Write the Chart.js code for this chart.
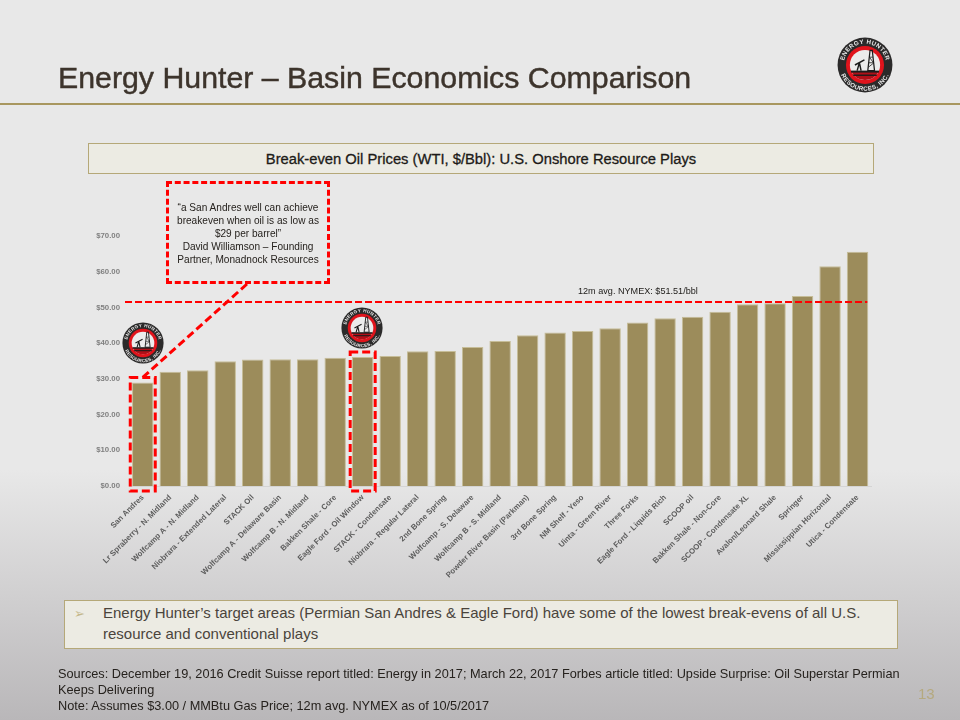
<!DOCTYPE html>
<html>
<head>
<meta charset="utf-8">
<title>Energy Hunter - Basin Economics Comparison</title>
<script src="https://cdn.jsdelivr.net/npm/chart.js@4/dist/chart.umd.min.js"></script>
<style>
  html, body { margin: 0; padding: 0; }
  body {
    width: 960px; height: 720px; position: relative; overflow: hidden;
    font-family: "Liberation Sans", Arial, sans-serif;
    background: linear-gradient(#e8e8e8 0, #e8e8e8 470px, #b9b7b9 720px);
  }
  #chart { position: absolute; left: 0; top: 0; }
  .abs { position: absolute; }
  #title { left: 58px; top: 61px; font-size: 30.3px; color: #3d342c; white-space: nowrap; -webkit-text-stroke: 0.45px #3d342c; }
  #rule { left: 0; top: 103px; width: 960px; height: 2px; background: #a8975f; }
  #header {
    left: 88px; top: 143px; width: 784px; height: 29px; line-height: 30px; text-align: center;
    background: #ecebe3; border: 1px solid #b5a878; font-size: 14.75px; color: #1d1b18;
    -webkit-text-stroke: 0.3px #1d1b18;
  }
  #callout {
    left: 166px; top: 181px; width: 158px; height: 97px; border: 3px dashed #ff0000;
    font-size: 10.1px; line-height: 13px; color: #26221e; text-align: center;
    display: flex; align-items: center;
  }
  #callout div { width: 100%; padding-top: 2px; }
  #nymex { left: 578px; top: 286px; font-size: 9.1px; color: #1d1b18; white-space: nowrap; }
  #takeaway {
    left: 64px; top: 600px; width: 832px; height: 47px;
    background: #ecebe3; border: 1px solid #b5a878;
    font-size: 15px; line-height: 21px; color: #4a443c;
  }
  #takeaway .arrow { position: absolute; left: 9px; top: 2px; color: #c4b78a; font-size: 13px; font-family: "DejaVu Sans"; }
  #takeaway .text { position: absolute; left: 38px; top: 1px; width: 790px; }
  #sources { left: 58px; top: 666px; width: 860px; font-size: 12.74px; line-height: 16px; color: #26221e; }
  #page { left: 918px; top: 685px; font-size: 15px; color: #b5a97f; }
  .logo { position: absolute; overflow: visible; }
  #ehLogo text { font-family: "Liberation Sans"; font-weight: bold; fill: #e8e8e8; font-size: 11px; letter-spacing: 0.7px; }
</style>
</head>
<body>
<canvas id="chart" width="960" height="720"></canvas>

<div id="title" class="abs">Energy Hunter – Basin Economics Comparison</div>
<div id="rule" class="abs"></div>
<div id="header" class="abs">Break-even Oil Prices (WTI, $/Bbl): U.S. Onshore Resource Plays</div>
<div id="callout" class="abs"><div>“a San Andres well can achieve breakeven when oil is as low as $29 per barrel”<br>David Williamson – Founding Partner, Monadnock Resources</div></div>
<div id="nymex" class="abs">12m avg. NYMEX: $51.51/bbl</div>
<div id="takeaway" class="abs">
  <span class="arrow">➢</span>
  <div class="text">Energy Hunter’s target areas (Permian San Andres &amp; Eagle Ford) have some of the lowest break-evens of all U.S. resource and conventional plays</div>
</div>
<div id="sources" class="abs">Sources: December 19, 2016 Credit Suisse report titled: Energy in 2017; March 22, 2017 Forbes article titled: Upside Surprise: Oil Superstar Permian Keeps Delivering<br>Note: Assumes $3.00 / MMBtu Gas Price; 12m avg. NYMEX as of 10/5/2017</div>
<div id="page" class="abs">13</div>

<svg width="0" height="0" style="position:absolute">
  <defs>
    <symbol id="ehLogo" viewBox="0 0 100 100">
      <path id="arcTop" d="M 12 50 A 38 38 0 0 1 88 50" fill="none"/>
      <path id="arcBottom" d="M 4 50 A 46 46 0 0 0 96 50" fill="none"/>
      <circle cx="50" cy="50" r="49" fill="#2b2a2a"/>
      <circle cx="50" cy="50" r="34" fill="#e0141c"/>
      <circle cx="50" cy="50" r="27" fill="#ececec"/>
      <path d="M 26 62 H 74 A 27 27 0 0 1 50 77 A 27 27 0 0 1 26 62 Z" fill="#b01018"/>
      <rect x="25" y="60" width="50" height="3.5" fill="#1c1c1c"/>
      <rect x="29" y="67" width="42" height="2.5" fill="#1c1c1c"/>
      <path d="M 55 60 L 59 24 H 63 L 67 60 Z" fill="none" stroke="#1c1c1c" stroke-width="2.2"/>
      <path d="M 57 46 H 65 M 58 36 H 64 M 56 54 L 66 46 M 58 36 L 65 46" stroke="#1c1c1c" stroke-width="1.4"/>
      <path d="M 32 50 L 49 41 M 40 46 L 43 60 M 40 46 L 36 60" stroke="#1c1c1c" stroke-width="2.6" fill="none"/>
      <text text-anchor="middle"><textPath href="#arcTop" startOffset="50%">ENERGY HUNTER</textPath></text>
      <text text-anchor="middle"><textPath href="#arcBottom" startOffset="50%">RESOURCES, INC.</textPath></text>
    </symbol>
  </defs>
</svg>
<svg class="logo" style="left:837px;top:37px" width="56" height="56"><use href="#ehLogo"/></svg>
<svg class="logo" style="left:122px;top:322px" width="42" height="42"><use href="#ehLogo"/></svg>
<svg class="logo" style="left:341px;top:307px" width="42" height="42"><use href="#ehLogo"/></svg>

<script>
// Chart data
const playNames = [
  "San Andres", "Lr Spraberry - N. Midland", "Wolfcamp A - N. Midland", "Niobrara - Extended Lateral",
  "STACK Oil", "Wolfcamp A - Delaware Basin", "Wolfcamp B - N. Midland", "Bakken Shale - Core",
  "Eagle Ford - Oil Window", "STACK - Condensate", "Niobrara - Regular Lateral", "2nd Bone Spring",
  "Wolfcamp - S. Delaware", "Wolfcamp B - S. Midland", "Powder River Basin (Parkman)", "3rd Bone Spring",
  "NM Shelf - Yeso", "Uinta - Green River", "Three Forks", "Eagle Ford - Liquids Rich", "SCOOP oil",
  "Bakken Shale - Non-Core", "SCOOP - Condensate XL", "Avalon/Leonard Shale", "Springer",
  "Mississippian Horizontal", "Utica - Condensate"
];
const breakEvenPrices = [
  29.0, 32.0, 32.4, 34.9, 35.4, 35.5, 35.5, 35.9, 36.1, 36.4, 37.7, 37.8, 38.9, 40.6,
  42.2, 43.0, 43.4, 44.2, 45.8, 47.0, 47.4, 48.8, 50.9, 51.2, 53.2, 61.5, 65.6
];
const nymexAverage = 51.51;
const highlightedPlays = [0, 8]; // San Andres, Eagle Ford - Oil Window

// Red dashed overlays: NYMEX line, highlight boxes, callout leader
const overlayPlugin = {
  id: "overlays",
  afterDatasetsDraw(chart) {
    const { ctx, scales, chartArea } = chart;
    const { x, y } = scales;
    ctx.save();
    ctx.strokeStyle = "#ff0000";

    // NYMEX average line
    const lineY = y.getPixelForValue(nymexAverage);
    ctx.lineWidth = 2;
    ctx.setLineDash([7, 3]);
    ctx.beginPath();
    ctx.moveTo(chartArea.left - 4, lineY);
    ctx.lineTo(chartArea.right - 4, lineY);
    ctx.stroke();

    // Boxes round the highlighted bars
    ctx.lineWidth = 3;
    ctx.setLineDash([8, 4]);
    highlightedPlays.forEach((i) => {
      const cx = x.getPixelForValue(i);
      const top = y.getPixelForValue(breakEvenPrices[i]) - 5;
      ctx.strokeRect(cx - 12.5, top, 25, y.getPixelForValue(0) + 5 - top);
    });

    // Leader from the callout to the San Andres box
    const box = document.getElementById("callout").getBoundingClientRect();
    ctx.beginPath();
    ctx.moveTo(x.getPixelForValue(highlightedPlays[0]), y.getPixelForValue(breakEvenPrices[highlightedPlays[0]]) - 5);
    ctx.lineTo(box.left + box.width / 2 - 1, box.bottom);
    ctx.stroke();
    ctx.restore();
  },
};

new Chart(document.getElementById("chart"), {
  type: "bar",
  data: {
    labels: playNames,
    datasets: [
      {
        data: breakEvenPrices,
        backgroundColor: "#9c8c5b",
        borderColor: "#c6bd98",
        borderWidth: 1,
        categoryPercentage: 1,
        barPercentage: 0.78,
      },
    ],
  },
  plugins: [overlayPlugin],
  options: {
    responsive: false,
    animation: false,
    layout: { padding: { top: 236, right: 88.7, bottom: 0, left: 0 } },
    plugins: { legend: { display: false }, tooltip: { enabled: false } },
    scales: {
      x: {
        afterFit: (scale) => { scale.height = 234; },
        grid: { display: false, drawTicks: false },
        border: { color: "#d4d4d4" },
        ticks: {
          autoSkip: false,
          maxRotation: 45,
          minRotation: 45,
          padding: 7,
          color: "#5c5c5c",
          font: { family: "Liberation Sans", size: 7.8, weight: "bold" },
        },
      },
      y: {
        min: 0,
        max: 70,
        afterFit: (scale) => { scale.width = 129; },
        grid: { display: false, drawTicks: false },
        border: { display: false },
        ticks: {
          stepSize: 10,
          padding: 9,
          color: "#7f7f7f",
          font: { family: "Liberation Sans", size: 7.8, weight: "bold" },
          callback: (value) => "$" + value.toFixed(2),
        },
      },
    },
  },
});
</script>
</body>
</html>
